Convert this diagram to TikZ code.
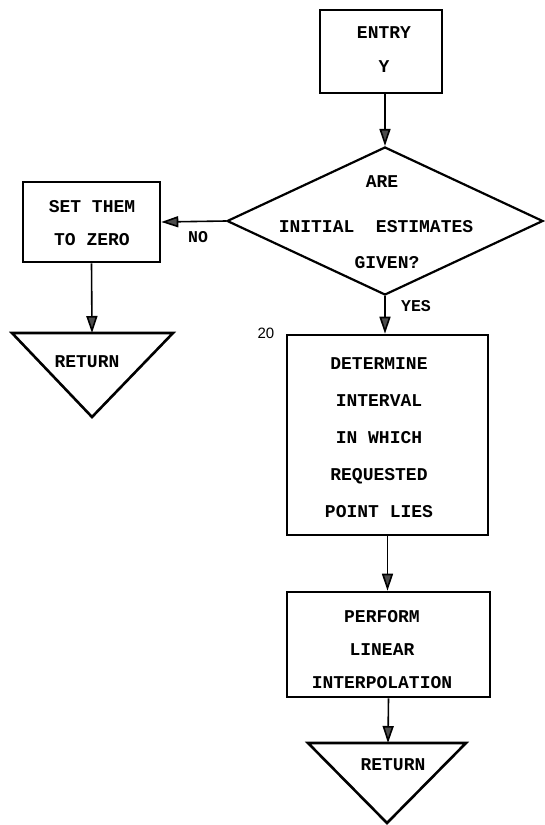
\documentclass[tikz,border=0pt]{standalone}
\usepackage{fontspec}
\setmonofont{Liberation Mono}
\newfontfamily\numfont{Liberation Sans}
\usetikzlibrary{arrows.meta,shapes.geometric}

\begin{document}
\begin{tikzpicture}[x=1pt,y=-1pt,
  tw/.style={font=\ttfamily\bfseries\fontsize{18}{#1}\selectfont, align=center, inner sep=0pt},
  tw/.default=34,
  lbl/.style={font=\ttfamily\bfseries\fontsize{16.5}{18}\selectfont, inner sep=0pt},
  box/.style={draw, line width=2.6pt, rectangle, inner sep=0pt},
  tri/.style={draw, line width=2.6pt, line join=miter},
  decision/.style={draw, line width=2.2pt, diamond, inner sep=0pt},
  flow/.style={line width=1.6pt, -{Triangle[length=17pt,width=11pt,fill=black!70]}},
]
\useasboundingbox (0,0) rectangle (544,825);

% entry block
\node[box, minimum width=122pt, minimum height=83pt] (entry) at (381,51.5) {};
\node[tw=34] (entrytxt) at (384,50) {ENTRY\\Y};

% decision
\node[decision, minimum width=316pt, minimum height=148pt] (dia) at (385,221) {};
\node[tw] (dq1) at (382,182) {ARE};
\node[tw] (dq2) at (376,227) {INITIAL~~ESTIMATES};
\node[tw] (dq3) at (387,263) {GIVEN?};

% "no" branch
\node[box, minimum width=137pt, minimum height=80pt] (setb) at (91.5,222) {};
\node[tw=33] (settxt) at (92,223.5) {SET THEM\\TO ZERO};
\draw[tri] (12,333) -- (173,333) -- (92,417) -- cycle;
\coordinate (ret1top) at (92,333);
\node[tw] (ret1) at (87,362) {RETURN};

% "yes" branch
\node[box, minimum width=201pt, minimum height=200pt] (b20) at (387.5,435) {};
\node[tw=37] (b20txt) at (379,437.5) {DETERMINE\\INTERVAL\\IN WHICH\\REQUESTED\\POINT LIES};
\node[font=\numfont\fontsize{15}{17}\selectfont, inner sep=0pt] (n20) at (266,333) {20};

\node[box, minimum width=203pt, minimum height=105pt] (perf) at (388.5,644.5) {};
\node[tw=33] (perftxt) at (382,650) {PERFORM\\LINEAR\\INTERPOLATION};
\draw[tri] (308,743) -- (466,743) -- (387,823) -- cycle;
\coordinate (ret2top) at (388,743);
\node[tw] (ret2) at (393,765) {RETURN};

% connectors
\draw[flow] (dia.north |- entry.south) -- (dia.north);
\draw[flow] (dia.west) -- (setb.east);
\node[lbl] (lno) at (198,237) {NO};
\draw[flow] (setb.south) -- (ret1top);
\draw[flow] (dia.south) -- (dia.south |- b20.north);
\node[lbl] (lyes) at (416,306) {YES};
\draw[flow] (b20.south) -- (b20.south |- perf.north);
\draw[flow] (perf.south) -- (ret2top);
\end{tikzpicture}
\end{document}
